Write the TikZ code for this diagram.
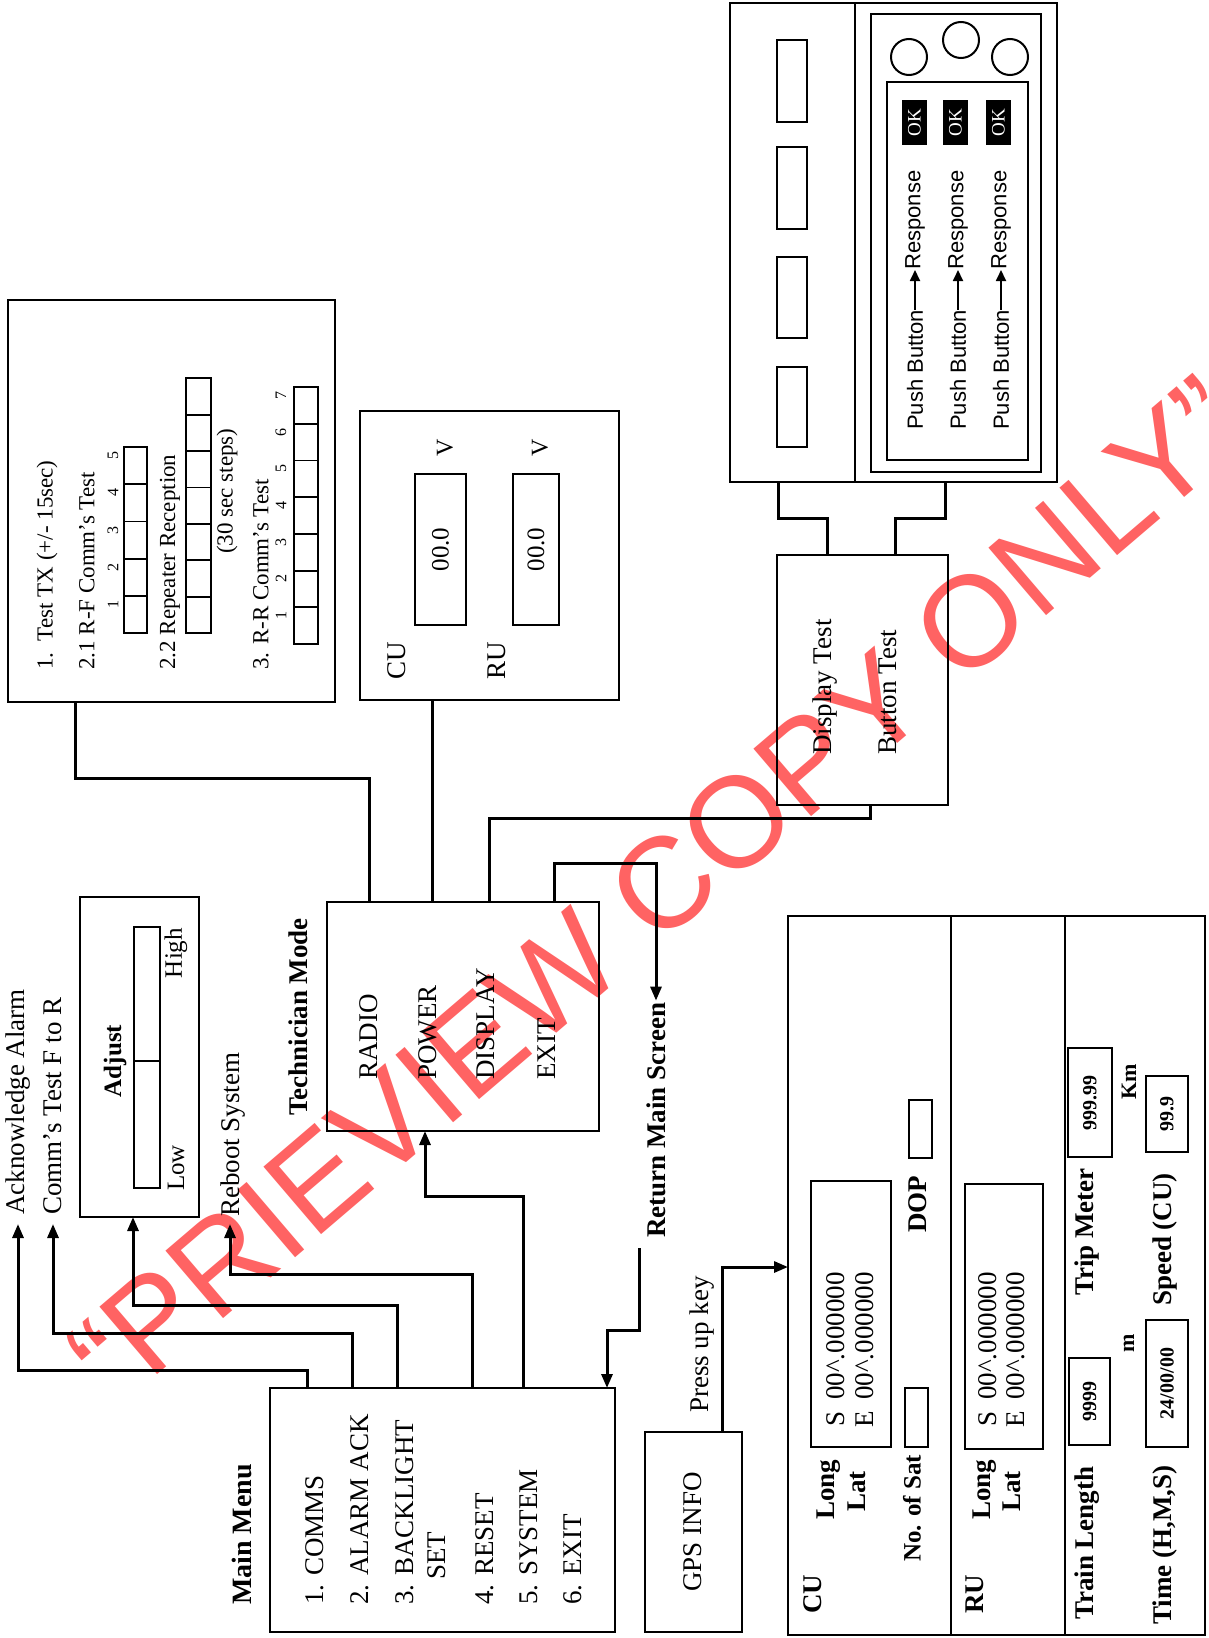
\documentclass[tikz,border=0pt]{standalone}
\usepackage{fontspec}
\setmainfont{Liberation Serif}
\newfontfamily\sansf{Liberation Sans}
\usetikzlibrary{arrows.meta}
\definecolor{wmred}{RGB}{255,99,99}
\newcommand\fs[1]{\fontsize{#1}{#1}\selectfont}
\newcommand\bx[6][]{\node[box,anchor=north west,minimum width={(#5-#3)*1pt},minimum height={(#6-#4)*1pt},#1] (#2) at (#3,#4) {};}
\begin{document}
\begin{tikzpicture}[x=1pt,y=-1pt,
  box/.style={draw,line width=2pt,inner sep=0pt,outer sep=0pt},
  conn/.style={line width=3pt},
  arr/.style={conn,-{Triangle[length=14pt,width=11pt]}},
  rt/.style={rotate=90,inner sep=0pt,font=\fs{27}},
  rtb/.style={rotate=90,inner sep=0pt,font=\bfseries\fs{27}},
  vbox/.style={rotate=90,draw,line width=2pt,inner sep=0pt,outer sep=0pt},
  thin/.style={line width=1.8pt}]
\useasboundingbox (0,0) rectangle (1208,1638);
\fill[white] (0,0) rectangle (1208,1638);
% watermark
\node[rotate=40.5,text=wmred,font=\sansf\fs{129},inner sep=0pt] (wm) at (657,890) {“PRIEVIEW COPY ONLY”};

% ---------- Radio box ----------
\bx{radio}{8}{300}{335}{702}
\node[rt,anchor=west,font=\fs{23}] (r1) at (47,670) {1.\enspace Test TX (+/- 15sec)};
\node[rt,anchor=west,font=\fs{23}] (r21) at (87,670) {2.1 R-F Comm’s Test};
\node[rt,anchor=west,font=\fs{23}] (r22) at (170,670) {2.2 Repeater Reception};
\node[rt,anchor=west,font=\fs{23}] (r22b) at (227,554) {(30 sec steps)};
\node[rt,anchor=west,font=\fs{23}] (r3) at (261,670) {3. R-R Comm’s Test};
\foreach \i in {1,...,5}{
  \draw[thin] (124,{633-37.2*\i}) rectangle (147,{633-37.2*(\i-1)});
  \node[rt,font=\fs{16}] (na\i) at (113,{633-37.2*(\i-0.5)-10}) {\i};
}
\foreach \i in {1,...,7}{
  \draw[thin] (186,{633-36.4*\i}) rectangle (211,{633-36.4*(\i-1)});
  \draw[thin] (294,{644-36.7*\i}) rectangle (318,{644-36.7*(\i-1)});
  \node[rt,font=\fs{16}] (nb\i) at (281,{644-36.7*(\i-0.5)-10}) {\i};
}

% ---------- Power box ----------
\bx{power}{360}{411}{619}{700}
\node[rt] (pcu) at (397,661) {CU};
\node[rt] (pru) at (497,661) {RU};
\node[vbox,minimum width=151pt,minimum height=51pt,font=\fs{25}] (pvc) at (440.5,549.5) {00.0};
\node[vbox,minimum width=151pt,minimum height=46pt,font=\fs{25}] (pvr) at (536,549.5) {00.0};
\node[rt,font=\fs{24}] (v1) at (445,448) {V};
\node[rt,font=\fs{24}] (v2) at (540,448) {V};

% ---------- Device ----------
\bx{dev}{730}{3}{1057}{482}
\draw[box] (855,3) -- (855,482);
\foreach \a/\b in {40/122,147/229,257/338,367/447}{
  \draw[box] (777,\a) rectangle (807,\b);
}
\bx{devin}{871}{14}{1041}{472}
\bx{devin2}{887}{82}{1028}{460}
\draw[box] (909,57) circle (18pt);
\draw[box] (961,40) circle (18pt);
\draw[box] (1010,57) circle (18pt);
\foreach \x/\k in {914.5/1,955.5/2,998.5/3}{
  \node[rotate=90,fill=black,text=white,minimum width=45pt,minimum height=25pt,inner sep=0pt,font=\fs{19}] (ok\k) at (\x,122.5) {OK};
}
\foreach \x/\k in {915/1,958/2,1001/3}{
  \node[rt,anchor=west,font=\sansf\fs{22}] (pb\k) at (\x,430) {Push Button};
  \node[rt,anchor=west,font=\sansf\fs{22}] (rs\k) at (\x,270) {Response};
  \draw[line width=1.8pt,-{Triangle[length=11pt,width=10pt]}] (pb\k.east) -- (rs\k.west);
}

% ---------- Display test ----------
\bx{dtest}{777}{555}{948}{805}
\node[rt,anchor=west] (dt1) at (825,755) {Display Test};
\node[rt,anchor=west] (dt2) at (888,755) {Button Test};
\draw[conn] (827,0 |- dtest.north) |- (778,518) -- (778,0 |- dev.south);
\draw[conn] (895,0 |- dtest.north) |- (945,518) -- (945,0 |- dev.south);

% ---------- Technician ----------
\bx{tech}{327}{902}{599}{1131}
\node[rtb,anchor=west] (techt) at (298,1116) {Technician Mode};
\node[rt,anchor=west] (t1) at (369,1080) {RADIO};
\node[rt,anchor=west] (t2) at (428,1080) {POWER};
\node[rt,anchor=west] (t3) at (486,1080) {DISPLAY};
\node[rt,anchor=west] (t4) at (547,1080) {EXIT};
\draw[conn] (75,0 |- radio.south) |- (369,778) -- (369,0 |- tech.north);
\draw[conn] (432,0 |- power.south) -- (432,0 |- tech.north);
\draw[conn] (489,0 |- tech.north) |- (870,818) -- (870,0 |- dtest.south);
\node[rtb,anchor=west] (ret) at (656,1238) {Return Main Screen};
\draw[arr,shorten >=2pt] (554,0 |- tech.north) |- (656,863) -- (ret.east);
\coordinate (retfoot) at (639,1248);

% ---------- Backlight ----------
\bx{adj}{80}{897}{199}{1217}
\bx{slider}{134}{927}{160}{1188}
\draw[box] (134,1061) -- (160,1061);
\node[rtb,font=\bfseries\fs{25}] (adjt) at (115,1061) {Adjust};
\node[rt,font=\fs{25}] (high) at (176,953) {High};
\node[rt,font=\fs{25}] (low) at (176,1168) {Low};

% ---------- Left labels ----------
\node[rt,anchor=west] (ack) at (18,1215) {Acknowledge Alarm};
\node[rt,anchor=west] (cft) at (53,1215) {Comm’s Test F to R};
\node[rt,anchor=west] (reb) at (233,1217) {Reboot System};

% ---------- Main menu ----------
\bx{menu}{270}{1388}{615}{1632}
\node[rtb,anchor=west,font=\bfseries\fs{28}] (mmt) at (242,1605) {Main Menu};
\node[rt,anchor=west] (m1) at (315,1605) {1. COMMS};
\node[rt,anchor=west] (m2) at (360,1605) {2. ALARM ACK};
\node[rt,anchor=west] (m3) at (405,1605) {3. BACKLIGHT};
\node[rt,anchor=west] (m3b) at (437,1580) {SET};
\node[rt,anchor=west] (m4) at (485,1605) {4. RESET};
\node[rt,anchor=west] (m5) at (529,1605) {5. SYSTEM};
\node[rt,anchor=west] (m6) at (573,1605) {6. EXIT};

\draw[arr] (307,0 |- menu.north) |- (18,1370) -- (18,1224);
\draw[arr] (352,0 |- menu.north) |- (53,1333) -- (53,1224);
\draw[arr] (397,0 |- menu.north) |- (133,1305) -- (133,0 |- adj.south);
\draw[arr] (472,0 |- menu.north) |- (230,1274) -- (230,1224);
\draw[arr] (523,0 |- menu.north) |- (425,1196) -- (425,0 |- tech.south);
\draw[arr] (retfoot) |- (607,1330) -- (607,0 |- menu.north);

% ---------- GPS info ----------
\bx{gpsinfo}{645}{1432}{742}{1632}
\node[rt] (gpst) at (693,1532) {GPS INFO};
\node[rt,anchor=west] (puk) at (702,1413) {Press up key};

% ---------- GPS display ----------
\bx{gpsd}{788}{916}{1205}{1635}
\draw[box] (951,916) -- (951,1635);
\draw[box] (1065,916) -- (1065,1635);
\draw[arr] (722,0 |- gpsinfo.north) |- (gpsd.west |- 0,1267);

\node[rtb] (cu) at (813,1594) {CU};
\node[rtb,anchor=west] (cul) at (829,1520) {Long};
\node[rtb,anchor=west] (cula) at (857,1512) {Lat};
\bx{cubox}{811}{1181}{891}{1447}
\node[rt] (cus) at (836,1419) {S};
\node[rt] (cue) at (865,1419) {E};
\node[rt,anchor=west] (cuv1) at (836,1400) {00\textasciicircum.000000};
\node[rt,anchor=west] (cuv2) at (865,1400) {00\textasciicircum.000000};
\node[rtb,anchor=west,font=\bfseries\fs{25}] (nsat) at (912,1562) {No. of Sat};
\bx{nsatbox}{905}{1388}{928}{1447}
\node[rtb,anchor=west] (dop) at (918,1233) {DOP};
\bx{dopbox}{909}{1100}{932}{1158}

\node[rtb] (ru) at (975,1594) {RU};
\node[rtb,anchor=west] (rul) at (985,1520) {Long};
\node[rtb,anchor=west] (rula) at (1012,1512) {Lat};
\bx{rubox}{965}{1184}{1043}{1449}
\node[rt] (rus) at (988,1419) {S};
\node[rt] (rue) at (1016,1419) {E};
\node[rt,anchor=west] (ruv1) at (988,1400) {00\textasciicircum.000000};
\node[rt,anchor=west] (ruv2) at (1016,1400) {00\textasciicircum.000000};

\node[rtb,anchor=west] (tl) at (1087,1620) {Train Length};
\node[vbox,minimum width=87pt,minimum height=41pt,font=\bfseries\fs{20}] (tlv) at (1089.5,1401.5) {9999};
\node[rtb,font=\bfseries\fs{22}] (mm) at (1129,1343) {m};
\node[rtb,anchor=west] (tm) at (1087,1296) {Trip Meter};
\node[vbox,minimum width=109pt,minimum height=44pt,font=\bfseries\fs{20}] (tmv) at (1090,1102.5) {999.99};
\node[rtb,font=\bfseries\fs{22}] (km) at (1129,1082) {Km};
\node[rtb,anchor=west] (tim) at (1165,1625) {Time (H,M,S)};
\node[vbox,minimum width=127pt,minimum height=42pt,font=\bfseries\fs{20}] (timv) at (1167,1383.5) {24/00/00};
\node[rtb,anchor=west] (spd) at (1165,1306) {Speed (CU)};
\node[vbox,minimum width=76pt,minimum height=42pt,font=\bfseries\fs{20}] (spdv) at (1167,1114) {99.9};
\end{tikzpicture}
\end{document}
